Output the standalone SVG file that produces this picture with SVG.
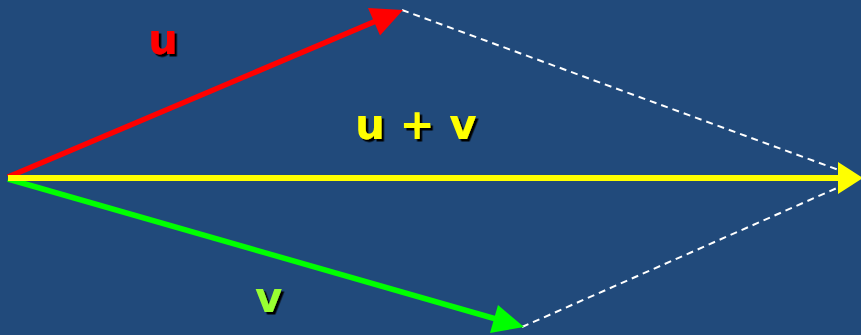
<svg xmlns="http://www.w3.org/2000/svg" width="861" height="335" viewBox="0 0 861 335">
<defs>
<style>
.lbl{font-family:"Comic Sans MS","DejaVu Sans",sans-serif;font-weight:bold;font-size:42px;filter:url(#sh)}
.dash{stroke:#ffffff;stroke-width:2;stroke-dasharray:7 5;fill:none}
</style>
<filter id="sh" x="-20%" y="-20%" width="150%" height="150%">
<feDropShadow dx="2.5" dy="2.5" stdDeviation="0.6" flood-color="#000000" flood-opacity="1"/>
</filter>
</defs>
<rect width="861" height="335" fill="#214A7B"/>
<g id="connectors">
<line class="dash" x1="402" y1="10" x2="855" y2="176"/>
<line class="dash" x1="522" y1="327" x2="855" y2="180"/>
</g>
<g id="vec-u">
<line x1="8" y1="177" x2="376" y2="21" stroke="#ff0000" stroke-width="5.5"/>
<polygon points="403,10 368,8 380,35.5" fill="#ff0000"/>
</g>
<g id="vec-v">
<line x1="8" y1="179" x2="496" y2="319" stroke="#00ff00" stroke-width="5.5"/>
<polygon points="524,327 498,305 490,333" fill="#00ff00"/>
</g>
<g id="vec-sum">
<line x1="8" y1="178" x2="840" y2="178" stroke="#ffff00" stroke-width="6"/>
<polygon points="863,178 838,162 838,194" fill="#ffff00"/>
</g>
<g id="label-u"><text class="lbl" x="148" y="54" fill="#ff0000">u</text></g>
<g id="label-sum"><text class="lbl" x="355" y="139" fill="#ffff00" xml:space="preserve">u + v</text></g>
<g id="label-v"><text class="lbl" x="255" y="312" fill="#99ff33">v</text></g>
</svg>
